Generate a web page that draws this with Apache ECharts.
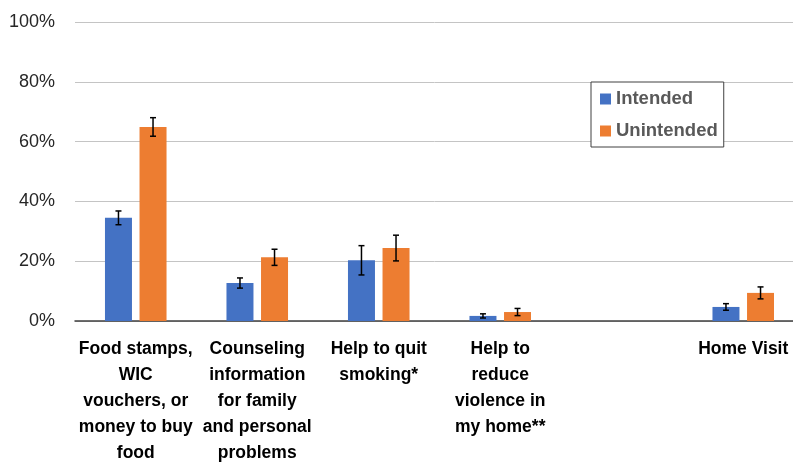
<!DOCTYPE html>
<html>
<head>
<meta charset="utf-8">
<script src="https://cdn.jsdelivr.net/npm/echarts@6/dist/echarts.min.js"></script>
<style>
  html, body { margin: 0; padding: 0; background: #fff; }
  #chart { width: 793px; height: 462px; }
</style>
</head>
<body>
<div id="chart"></div>
<script>
// categories (index 4 is an empty slot, as in the original)
const categories = [
  'Food stamps,\nWIC\nvouchers, or\nmoney to buy\nfood',
  'Counseling\ninformation\nfor family\nand personal\nproblems',
  'Help to quit\nsmoking*',
  'Help to\nreduce\nviolence in\nmy home**',
  '',
  'Home Visit'
];

// percentages
const intended = [34.5, 12.7, 20.3, 1.7, null, 4.7];
const unintended = [64.9, 21.3, 24.4, 3.0, null, 9.4];

// half-length of the error bars
const intendedErr = [2.3, 1.7, 4.9, 0.7, null, 1.1];
const unintendedErr = [3.1, 2.7, 4.3, 1.2, null, 2.0];

const yTicks = [0, 20, 40, 60, 80, 100];

const BAR_W = 27;
const BAR_GAP = 0.28;
const FONT = "'Liberation Sans', Arial, sans-serif";

// build [index, low, high] rows for the custom error series
function errRows(vals, errs) {
  const rows = [];
  vals.forEach((v, i) => {
    if (v == null) return;
    rows.push([i, v - errs[i], v + errs[i]]);
  });
  return rows;
}

function errRender(side) {
  return function (params, api) {
    const idx = api.value(0);
    const lo = api.coord([idx, api.value(1)]);
    const hi = api.coord([idx, api.value(2)]);
    const x = lo[0] + side * (BAR_W + BAR_W * BAR_GAP) / 2;
    const cap = 3;
    const style = { stroke: '#000', lineWidth: 1.5 };
    return {
      type: 'group',
      children: [
        { type: 'line', shape: { x1: x, y1: hi[1], x2: x, y2: lo[1] }, style: style },
        { type: 'line', shape: { x1: x - cap, y1: hi[1], x2: x + cap, y2: hi[1] }, style: style },
        { type: 'line', shape: { x1: x - cap, y1: lo[1], x2: x + cap, y2: lo[1] }, style: style }
      ]
    };
  };
}

const chart = echarts.init(document.getElementById('chart'));

chart.setOption({
  animation: false,
  textStyle: { fontFamily: FONT },
  grid: { left: 75, top: 22, width: 729, height: 299, outerBoundsMode: 'none', containLabel: false },
  legend: {
    data: ['Intended', 'Unintended'],
    orient: 'vertical',
    left: 591,
    top: 82,
    backgroundColor: '#fff',
    borderColor: '#404040',
    borderWidth: 1,
    borderRadius: 0,
    padding: [7, 6, 6, 9],
    itemWidth: 11,
    itemHeight: 11,
    itemGap: 12,
    icon: 'rect',
    textStyle: { fontFamily: FONT, fontSize: 18.5, fontWeight: 'bold', color: '#595959', lineHeight: 20 }
  },
  xAxis: {
    type: 'category',
    data: categories,
    axisTick: { show: false },
    axisLine: { lineStyle: { color: '#404040', width: 1.5 } },
    axisLabel: {
      interval: 0,
      margin: 15,
      color: '#000',
      fontFamily: FONT,
      fontSize: 17.5,
      fontWeight: 'bold',
      lineHeight: 26,
      verticalAlign: 'top'
    }
  },
  yAxis: {
    type: 'value',
    min: yTicks[0],
    max: yTicks[yTicks.length - 1],
    interval: 20,
    axisLine: { show: false },
    axisTick: { show: false },
    axisLabel: { formatter: '{value}%', color: '#262626', fontFamily: FONT, fontSize: 18, margin: 20 },
    splitLine: { lineStyle: { color: '#c4c4c4', width: 1 } }
  },
  series: [
    {
      name: 'Intended',
      type: 'bar',
      data: intended,
      barWidth: BAR_W,
      barGap: (BAR_GAP * 100) + '%',
      itemStyle: { color: '#4472C4' }
    },
    {
      name: 'Unintended',
      type: 'bar',
      data: unintended,
      barWidth: BAR_W,
      itemStyle: { color: '#ED7D31' }
    },
    {
      name: 'errIntended',
      type: 'custom',
      data: errRows(intended, intendedErr),
      encode: { x: 0, y: [1, 2] },
      renderItem: errRender(-1),
      z: 5
    },
    {
      name: 'errUnintended',
      type: 'custom',
      data: errRows(unintended, unintendedErr),
      encode: { x: 0, y: [1, 2] },
      renderItem: errRender(1),
      z: 5
    }
  ]
});
</script>
</body>
</html>
